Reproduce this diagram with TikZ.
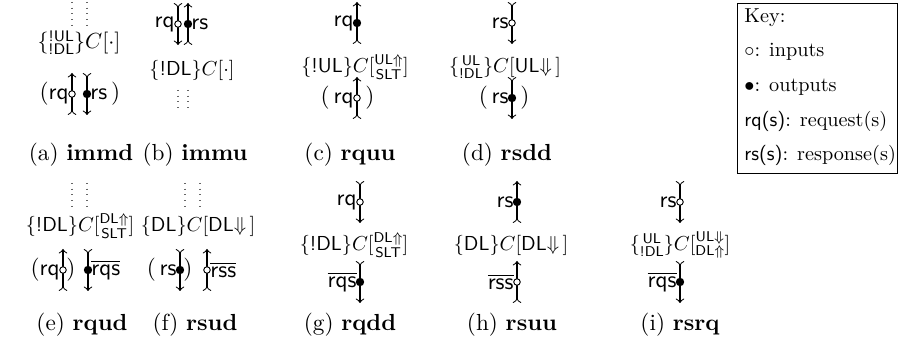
\documentclass[tikz,border=0pt]{standalone}
\usepackage{amsmath}
\usetikzlibrary{arrows}
\newcommand\WireU[4]{%
  \coordinate (#1-s) at ({#2},{#3+21});
  \coordinate (#1-e) at ({#2},{#3-21});
  \draw[wire] (#1-s) -- (#1-e);
  \node[#4] (#1) at ({#2},{#3}) {};}
\newcommand\WireD[4]{%
  \coordinate (#1-s) at ({#2},{#3-21});
  \coordinate (#1-e) at ({#2},{#3+21});
  \draw[wire] (#1-s) -- (#1-e);
  \node[#4] (#1) at ({#2},{#3}) {};}
\newcommand\Dn{\mathord{\Downarrow}}
\newcommand\Upa{\mathord{\Uparrow}}
\begin{document}
\begin{tikzpicture}[x=0.43pt,y=-0.43pt,>=to,
  wire/.style={line width=0.45pt,>->},
  filled/.style={circle,fill=black,inner sep=0pt,minimum size=3.6pt},
  hollow/.style={circle,draw=black,fill=white,line width=0.4pt,inner sep=0pt,minimum size=2.8pt},
  dotsline/.style={dotted,line width=0.45pt,black!60},
  txt/.style={inner sep=0pt},
  fml/.style={inner sep=0pt,scale=0.87},
  lt/.style={txt,anchor=east},
  rt/.style={txt,anchor=west},
  captxt/.style={inner sep=0pt},
  keyt/.style={inner sep=0pt,anchor=west,scale=0.87}]
\useasboundingbox (0,0) rectangle (899,358);
% ---------- (a)
\coordinate (ad1a) at (72,2); \coordinate (ad1b) at (72,25);
\coordinate (ad2a) at (87,2); \coordinate (ad2b) at (87,25);
\draw[dotsline] (ad1a) -- (ad1b); \draw[dotsline] (ad2a) -- (ad2b);
\node[fml,scale=1.08] (af) at (79,43) {$\{\substack{\textsf{!UL}\\\textsf{!DL}}\}C[\cdot]$};
\WireU{aw1}{72}{94}{hollow}
\WireD{aw2}{87}{94}{filled}
\node[lt] (aq) at (69,94) {(\textsf{rq}};
\node[rt] (as) at (90,94) {\textsf{rs}\,)};
\node[captxt] (acap) at (81,155) {(a) \textbf{immd}};
% ---------- (b)
\WireD{bw1}{178}{24}{hollow}
\WireU{bw2}{188}{24}{filled}
\node[lt] (bq) at (175,24) {\textsf{rq}};
\node[rt] (bs) at (191,24) {\textsf{rs}};
\node[fml] (bf) at (192,70) {$\{\textsf{!DL}\}C[\cdot]$};
\coordinate (bd1a) at (178,90); \coordinate (bd1b) at (178,112);
\coordinate (bd2a) at (188,90); \coordinate (bd2b) at (188,112);
\draw[dotsline] (bd1a) -- (bd1b); \draw[dotsline] (bd2a) -- (bd2b);
\node[captxt] (bcap) at (195,155) {(b) \textbf{immu}};
% ---------- (c)
\WireU{cw1}{357}{23}{filled}
\node[lt] (cq1) at (354,23) {\textsf{rq}};
\node[fml] (cf) at (355,67) {$\{\textsf{!UL}\}C[\substack{\textsf{UL}\Upa\\\textsf{SLT}}]$};
\WireU{cw2}{357}{98}{hollow}
\node[lt] (cq2) at (354,98) {(\,\textsf{rq}};
\node[rt] (cp) at (365,98) {)};
\node[captxt] (ccap) at (350,155) {(c) \textbf{rquu}};
% ---------- (d)
\WireD{dw1}{512}{23}{hollow}
\node[lt] (ds1) at (509,23) {\textsf{rs}};
\node[fml] (df) at (505,67) {$\{\substack{\textsf{UL}\\\textsf{!DL}}\}C[\textsf{UL}\Dn\,]$};
\WireD{dw2}{512}{98}{filled}
\node[lt] (ds2) at (509,98) {(\,\textsf{rs}};
\node[rt] (dp) at (520,98) {)};
\node[captxt] (dcap) at (507,155) {(d) \textbf{rsdd}};
% ---------- key
\draw[line width=0.4pt] (737,3) rectangle (897,173);
\node[keyt] (k0) at (744,18) {Key:};
\node[keyt] (k1) at (744,52) {$\circ$: inputs};
\node[keyt] (k2) at (744,87) {$\bullet$: outputs};
\node[keyt] (k3) at (744,121) {\textsf{rq(s)}: request(s)};
\node[keyt] (k4) at (744,155) {\textsf{rs(s)}: response(s)};
% ---------- (e)
\coordinate (ed1a) at (72,183); \coordinate (ed1b) at (72,206);
\coordinate (ed2a) at (87,183); \coordinate (ed2b) at (87,206);
\draw[dotsline] (ed1a) -- (ed1b); \draw[dotsline] (ed2a) -- (ed2b);
\node[fml] (ef) at (80,226) {$\{\textsf{!DL}\}C[\substack{\textsf{DL}\Upa\\\textsf{SLT}}]$};
\WireU{ew1}{63}{270}{hollow}
\node[lt] (eq) at (60,270) {(\textsf{rq}};
\node[rt] (ep) at (66,270) {)};
\WireD{ew2}{88}{270}{filled}
\node[rt] (eqs) at (91,270) {$\overline{\textsf{rqs}}$};
\node[captxt] (ecap) at (82,325) {(e) \textbf{rqud}};
% ---------- (f)
\coordinate (fd1a) at (185,183); \coordinate (fd1b) at (185,206);
\coordinate (fd2a) at (200,183); \coordinate (fd2b) at (200,206);
\draw[dotsline] (fd1a) -- (fd1b); \draw[dotsline] (fd2a) -- (fd2b);
\node[fml] (ff) at (198,226) {$\{\textsf{DL}\}C[\textsf{DL}\Dn\,]$};
\WireD{fw1}{180}{270}{filled}
\node[lt] (fs) at (177,270) {(\,\textsf{rs}};
\node[rt] (fp) at (183,270) {)};
\WireU{fw2}{207}{270}{hollow}
\node[rt] (fss) at (210,270) {$\overline{\textsf{rss}}$};
\node[captxt] (fcap) at (195,325) {(f) \textbf{rsud}};
% ---------- (g)
\WireD{gw1}{360}{202}{hollow}
\node[lt] (gq) at (357,202) {\textsf{rq}};
\node[fml] (gf) at (354,245) {$\{\textsf{!DL}\}C[\substack{\textsf{DL}\Upa\\\textsf{SLT}}]$};
\WireD{gw2}{360}{282}{filled}
\node[lt] (gqs) at (357,282) {$\overline{\textsf{rqs}}$};
\node[captxt] (gcap) at (350,325) {(g) \textbf{rqdd}};
% ---------- (h)
\WireU{hw1}{517}{202}{filled}
\node[lt] (hs) at (514,202) {\textsf{rs}};
\node[fml] (hf) at (511,245) {$\{\textsf{DL}\}C[\textsf{DL}\Dn\,]$};
\WireU{hw2}{517}{282}{hollow}
\node[lt] (hss) at (514,282) {$\overline{\textsf{rss}}$};
\node[captxt] (hcap) at (512,325) {(h) \textbf{rsuu}};
% ---------- (i)
\WireD{iw1}{680}{202}{hollow}
\node[lt] (is) at (677,202) {\textsf{rs}};
\node[fml] (iff) at (680,245) {$\{\substack{\textsf{UL}\\\textsf{!DL}}\}C[\substack{\textsf{UL}\Dn\\\textsf{DL}\Upa}]$};
\WireD{iw2}{680}{282}{filled}
\node[lt] (iqs) at (677,282) {$\overline{\textsf{rqs}}$};
\node[captxt] (icap) at (680,325) {(i) \textbf{rsrq}};
\end{tikzpicture}
\end{document}
